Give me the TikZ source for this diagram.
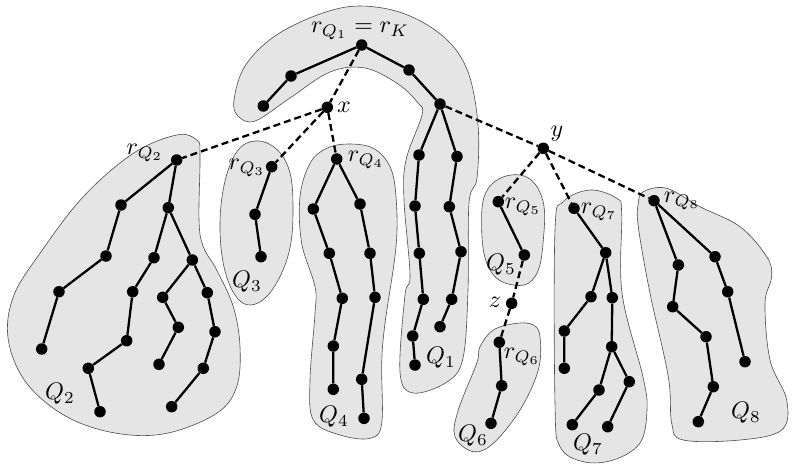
\documentclass[tikz,border=0pt]{standalone}
\usepackage{graphicx}
\newcommand{\mylab}[1]{\scalebox{2.4}{$#1$}}
\begin{document}
\begin{tikzpicture}[x=1pt,y=-1pt,
  dot/.style={circle,fill=black,inner sep=0pt,minimum size=11.5pt},
  tedge/.style={line width=2.3pt},
  dedge/.style={line width=2.3pt,dash pattern=on 7pt off 4pt},
  blob/.style={draw=black!70,line width=0.6pt,fill=black!10},
  lab/.style={inner sep=0pt}]
\useasboundingbox (0,0) rectangle (792,463);
% blobs
\draw[blob] plot[smooth cycle,tension=0.6] coordinates {(234,100) (245,66) (275,36) (320,14) (360,6) (405,14) (445,38) (468,72) (478,125) (477,178) (469,203) (468,290) (463,358) (447,382) (413,393) (400,372) (405,295) (410,275) (404,200) (406,160) (422,115) (418,103) (398,84) (365,68) (330,72) (290,98) (255,121) (238,116)};
\draw[blob] plot[smooth cycle,tension=0.6] coordinates {(176.7,135) (196.7,140) (200,155) (199,220) (203.3,246.7) (216.7,270) (233.3,306.7) (240,346.7) (236.7,386.7) (216.7,413.3) (166.7,433.3) (116.7,433.3) (66.7,416.7) (26.7,383.3) (8.3,340) (13.3,296.7) (40,253.3) (83.3,196.7) (133.3,153.3)};
\draw[blob] plot[smooth cycle,tension=0.7] coordinates {(255,141) (285,160) (293,210) (285,265) (258,303) (232,290) (220,230) (230,165)};
\draw[blob] plot[smooth cycle,tension=0.6] coordinates {(348.3,144) (373.3,148.3) (390,166.7) (396,196.7) (396,246.7) (385,323.3) (381.7,363.3) (381.7,423.3) (370,438.3) (340,435) (313.3,420) (310,380) (315,313.3) (315,286.7) (301.7,243.3) (300,196.7) (310,163.3) (326.7,148.3)};
\draw[blob] plot[smooth cycle,tension=0.7] coordinates {(520,175) (541.7,196.7) (543.3,240) (535,276.7) (513.3,285) (490,270) (481.7,230) (488.3,188.3)};
\draw[blob] plot[smooth cycle,tension=0.6] coordinates {(533.3,325) (540,336.7) (538.3,370) (520,410) (493.3,443.3) (473.3,451.7) (455,436.7) (458.3,410) (476.7,363.3) (480,346.7) (493.3,330) (516.7,323.3)};
\draw[blob] plot[smooth cycle,tension=0.6] coordinates {(590,190) (616.7,198.3) (621.7,213.3) (622,293) (643,377) (647,410) (640,443) (613.3,460) (583.3,461.7) (560,446.7) (555,403.3) (555,230) (563.3,201.7)};
\draw[blob] plot[smooth cycle,tension=0.6] coordinates {(643.3,191.7) (666.7,188.3) (700,206.7) (740,226.7) (766.7,256.7) (771.7,276.7) (765,303.3) (770,360) (786.7,400) (781.7,430) (740,440) (683.3,440) (671.7,423.3) (668.3,376.7) (650,293.3) (638.3,226.7) (638.3,203.3)};
% Q1 tree
\node[dot] (k) at (361.7,45) {};
\node[dot] (a1) at (291,76) {};
\node[dot] (a2) at (263.3,106) {};
\node[dot] (b1) at (409,70) {};
\node[dot] (b2) at (440,104) {};
\node[dot] (c1) at (419,155) {};
\node[dot] (c2) at (415,206) {};
\node[dot] (c3) at (419.3,253.3) {};
\node[dot] (c4) at (423.3,299.3) {};
\node[dot] (c5) at (412.7,336) {};
\node[dot] (c6) at (415,365) {};
\node[dot] (d1) at (457,156.5) {};
\node[dot] (d2) at (449.3,206.7) {};
\node[dot] (d3) at (461,251.7) {};
\node[dot] (d4) at (451.7,299.3) {};
\node[dot] (d5) at (440,326.7) {};
\node[dot] (x) at (327.3,107.3) {};
\node[dot] (y) at (543.3,148.3) {};
% Q2
\node[dot] (q2r) at (176.7,160) {};
\node[dot] (e1) at (121,205) {};
\node[dot] (e2) at (106,256) {};
\node[dot] (e3) at (59,291.7) {};
\node[dot] (e4) at (41.7,349) {};
\node[dot] (f1) at (168.3,207.7) {};
\node[dot] (g1) at (154,257.7) {};
\node[dot] (g2) at (132.7,291.7) {};
\node[dot] (g3) at (126.7,340.7) {};
\node[dot] (g4) at (88.3,368.3) {};
\node[dot] (g5) at (100,411.7) {};
\node[dot] (h1) at (192.3,260) {};
\node[dot] (i1) at (162.7,297.3) {};
\node[dot] (i2) at (178.3,327.3) {};
\node[dot] (i3) at (159,364.3) {};
\node[dot] (j1) at (207.3,292.7) {};
\node[dot] (j2) at (215,331.7) {};
\node[dot] (j3) at (203.3,368.3) {};
\node[dot] (j4) at (171.7,406.7) {};
% Q3
\node[dot] (q3r) at (271.7,166.7) {};
\node[dot] (l1) at (255,214.3) {};
\node[dot] (l2) at (261,256.7) {};
% Q4
\node[dot] (q4r) at (336.7,159) {};
\node[dot] (m1) at (313.3,209) {};
\node[dot] (m2) at (329.3,253.3) {};
\node[dot] (m3) at (342.3,298.3) {};
\node[dot] (m4) at (333.3,346) {};
\node[dot] (m5) at (333.3,389.3) {};
\node[dot] (n1) at (360,204) {};
\node[dot] (n2) at (370,253.3) {};
\node[dot] (n3) at (375,297.3) {};
\node[dot] (n4) at (361.7,379.3) {};
\node[dot] (n5) at (364,418.3) {};
% Q5, z, Q6
\node[dot] (q5r) at (498.3,201.7) {};
\node[dot] (o1) at (524.3,255) {};
\node[dot] (z) at (511.7,303.3) {};
\node[dot] (q6r) at (499.3,342.3) {};
\node[dot] (p1) at (501.7,385.7) {};
\node[dot] (p2) at (491,423.3) {};
% Q7
\node[dot] (q7r) at (574,208.3) {};
\node[dot] (s1) at (605.7,252.7) {};
\node[dot] (s2) at (591,296.7) {};
\node[dot] (s3) at (564.3,331) {};
\node[dot] (s4) at (564.3,368.3) {};
\node[dot] (t1) at (612.3,297.7) {};
\node[dot] (t2) at (611.7,346.7) {};
\node[dot] (u1) at (599,390) {};
\node[dot] (u2) at (572.3,424.7) {};
\node[dot] (w1) at (629.3,381.7) {};
\node[dot] (w2) at (607.7,426.7) {};
% Q8
\node[dot] (q8r) at (654,200.7) {};
\node[dot] (v1) at (678.3,265) {};
\node[dot] (v2) at (672.7,306.7) {};
\node[dot] (v3) at (706,336.7) {};
\node[dot] (v4) at (713.3,386.7) {};
\node[dot] (v5) at (698.3,421.7) {};
\node[dot] (r1) at (715,256.7) {};
\node[dot] (r2) at (727.7,291.7) {};
\node[dot] (r3) at (745,361.7) {};
% solid edges
\draw[tedge] (a2)--(a1)--(k)--(b1)--(b2);
\draw[tedge] (b2)--(c1)--(c2)--(c3)--(c4)--(c5)--(c6);
\draw[tedge] (b2)--(d1)--(d2)--(d3)--(d4)--(d5);
\draw[tedge] (q2r)--(e1)--(e2)--(e3)--(e4);
\draw[tedge] (q2r)--(f1)--(g1)--(g2)--(g3)--(g4)--(g5);
\draw[tedge] (f1)--(h1)--(i1)--(i2)--(i3);
\draw[tedge] (h1)--(j1)--(j2)--(j3)--(j4);
\draw[tedge] (q3r)--(l1)--(l2);
\draw[tedge] (q4r)--(m1)--(m2)--(m3)--(m4)--(m5);
\draw[tedge] (q4r)--(n1)--(n2)--(n3)--(n4)--(n5);
\draw[tedge] (q5r)--(o1);
\draw[tedge] (q6r)--(p1)--(p2);
\draw[tedge] (q7r)--(s1)--(s2)--(s3)--(s4);
\draw[tedge] (s1)--(t1)--(t2)--(u1)--(u2);
\draw[tedge] (t2)--(w1)--(w2);
\draw[tedge] (q8r)--(v1)--(v2)--(v3)--(v4)--(v5);
\draw[tedge] (q8r)--(r1)--(r2)--(r3);
% dashed edges
\draw[dedge] (k)--(x);
\draw[dedge] (x)--(q2r);
\draw[dedge] (x)--(q3r);
\draw[dedge] (x)--(q4r);
\draw[dedge] (b2)--(y);
\draw[dedge] (y)--(q5r);
\draw[dedge] (y)--(q7r);
\draw[dedge] (y)--(q8r);
\draw[dedge] (o1)--(z);
\draw[dedge] (z)--(q6r);
% labels
\node[lab] (lk) at (360,31) {\mylab{r_{Q_1}=r_K}};
\node[lab] (lx) at (344,107) {\mylab{x}};
\node[lab] (ly) at (557,134) {\mylab{y}};
\node[lab] (lz) at (495,302) {\mylab{z}};
\node[lab] (lq2r) at (145,153) {\mylab{r_{Q_2}}};
\node[lab] (lq3r) at (247,168) {\mylab{r_{Q_3}}};
\node[lab] (lq4r) at (366,160) {\mylab{r_{Q_4}}};
\node[lab] (lq5r) at (523,207) {\mylab{r_{Q_5}}};
\node[lab] (lq6r) at (522,357) {\mylab{r_{Q_6}}};
\node[lab] (lq7r) at (599,212) {\mylab{r_{Q_7}}};
\node[lab] (lq8r) at (682,201) {\mylab{r_{Q_8}}};
\node[lab] (lq1) at (441,358) {\mylab{Q_1}};
\node[lab] (lq2) at (60,394) {\mylab{Q_2}};
\node[lab] (lq3) at (247,282) {\mylab{Q_3}};
\node[lab] (lq4) at (334,417) {\mylab{Q_4}};
\node[lab] (lq5) at (501,265) {\mylab{Q_5}};
\node[lab] (lq6) at (473,436) {\mylab{Q_6}};
\node[lab] (lq7) at (588,445) {\mylab{Q_7}};
\node[lab] (lq8) at (746,413) {\mylab{Q_8}};
\end{tikzpicture}
\end{document}
